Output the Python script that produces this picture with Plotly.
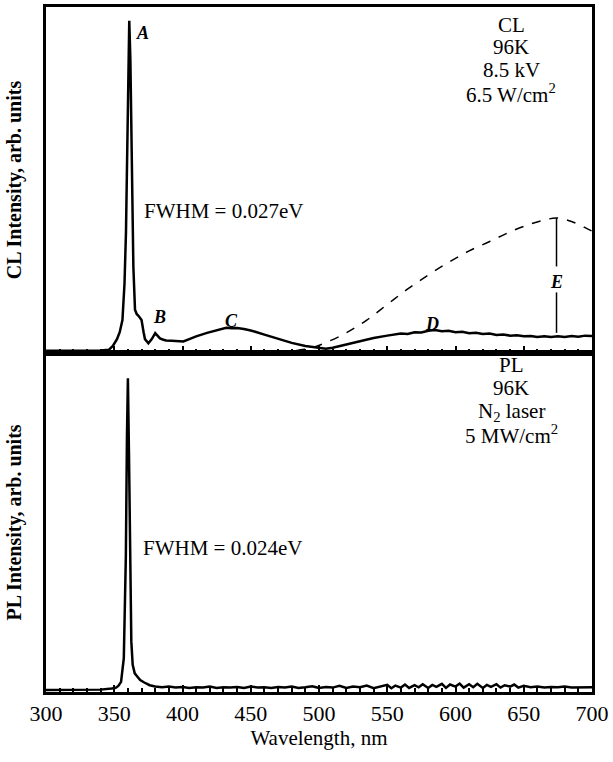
import plotly.graph_objects as go
from plotly.subplots import make_subplots

# ---------------- data ----------------
# CL spectrum (solid), wavelength nm / arb. intensity
cl_wavelength = [300, 310, 320, 330, 340, 346, 349, 352, 354, 356, 357.5, 358.6, 359.5, 360.3, 361,
                 361.8, 362.8, 364, 365.2, 366.5, 367.6, 370, 371.5, 372.5, 375, 377.5, 380, 382,
                 383.5, 386, 388, 392, 395.7, 399, 400.6, 405, 410, 418, 425, 428, 432, 436, 440,
                 445, 450, 460, 470, 480, 490, 500, 505, 510, 520, 530, 540, 550, 555, 560, 565,
                 570, 575, 580, 585, 590, 595, 600, 605, 610, 615, 620, 625, 630, 635, 640, 645,
                 650, 655, 660, 665, 670, 675, 680, 685, 690, 695, 700]
cl_intensity = [0.006, 0.006, 0.006, 0.006, 0.007, 0.009, 0.02, 0.04, 0.06, 0.095, 0.2, 0.35, 0.55,
                0.75, 0.96, 0.85, 0.62, 0.25, 0.125, 0.112, 0.108, 0.095, 0.06, 0.04, 0.028, 0.04,
                0.057, 0.05, 0.042, 0.038, 0.036, 0.035, 0.034, 0.032, 0.033, 0.04, 0.048, 0.058,
                0.065, 0.068, 0.073, 0.071, 0.072, 0.069, 0.065, 0.053, 0.041, 0.029, 0.02, 0.014,
                0.012, 0.015, 0.025, 0.035, 0.043, 0.05, 0.052, 0.056, 0.055, 0.06, 0.059, 0.064,
                0.066, 0.063, 0.064, 0.06, 0.061, 0.057, 0.058, 0.055, 0.056, 0.052, 0.053, 0.05,
                0.051, 0.048, 0.049, 0.046, 0.048, 0.046, 0.048, 0.046, 0.049, 0.047, 0.05, 0.049]

# CL spectrum, second measurement (dashed)
dash_wavelength = [470, 485, 495, 505, 520, 535, 550, 565, 580, 595, 610, 625, 640, 655, 665,
                   674, 685, 695, 700]
dash_intensity = [0.003, 0.008, 0.015, 0.03, 0.058, 0.095, 0.14, 0.185, 0.225, 0.262, 0.295, 0.322,
                  0.35, 0.373, 0.384, 0.39, 0.38, 0.362, 0.352]

# PL spectrum
pl_wavelength = [300, 310, 320, 330, 340, 348, 351, 353, 355, 357, 358.5, 359.3, 360, 360.8, 361.6,
                 362.5, 363.5, 365, 367, 369, 372, 376, 380, 385, 390, 395, 400, 405, 410, 415,
                 420, 425, 430, 435, 440, 445, 450, 455, 460, 465, 470, 475, 480, 485, 490, 495,
                 500, 505, 510, 515, 520, 525, 530, 535, 540, 545, 550, 553, 556, 560, 563, 566,
                 570, 573, 576, 580, 583, 586, 590, 593, 596, 600, 603, 606, 610, 613, 616, 620,
                 623, 626, 630, 633, 636, 640, 643, 646, 650, 655, 660, 665, 670, 675, 680, 685,
                 690, 695, 700]
pl_intensity = [0.006, 0.006, 0.006, 0.007, 0.007, 0.01, 0.012, 0.018, 0.03, 0.1, 0.4, 0.75, 0.925,
                0.7, 0.35, 0.15, 0.08, 0.055, 0.045, 0.035, 0.028, 0.02, 0.016, 0.014, 0.016, 0.013,
                0.015, 0.012, 0.014, 0.013, 0.016, 0.012, 0.014, 0.013, 0.015, 0.012, 0.016, 0.013,
                0.014, 0.012, 0.015, 0.013, 0.016, 0.012, 0.014, 0.017, 0.012, 0.015, 0.013, 0.018,
                0.012, 0.016, 0.014, 0.019, 0.011, 0.017, 0.021, 0.011, 0.019, 0.013, 0.022, 0.012,
                0.02, 0.014, 0.023, 0.012, 0.021, 0.015, 0.024, 0.012, 0.022, 0.016, 0.025, 0.013,
                0.023, 0.014, 0.024, 0.012, 0.021, 0.015, 0.023, 0.013, 0.02, 0.016, 0.022, 0.013,
                0.018, 0.014, 0.016, 0.013, 0.015, 0.014, 0.016, 0.013, 0.014, 0.015, 0.014]

x_ticks = [300, 350, 400, 450, 500, 550, 600, 650, 700]
x_tick_labels = ["300", "350", "400", "450", "500", "550", "600", "650", "700"]

peak_labels = ["A", "B", "C", "D"]
peak_label_x = [371, 383, 436, 583]
peak_label_y = [0.925, 0.105, 0.092, 0.083]

e_wavelength = 674

cl_info = ["CL", "96K", "8.5 kV", "6.5 W/cm<sup>2</sup>"]
pl_info = ["PL", "96K", "N<sub>2</sub> laser", "5 MW/cm<sup>2</sup>"]

# ---------------- figure ----------------
SERIF = "Liberation Serif"
fig = make_subplots(rows=2, cols=1, shared_xaxes=True, vertical_spacing=0)

fig.add_trace(go.Scatter(x=dash_wavelength, y=dash_intensity, mode="lines",
                         line=dict(color="black", width=1.5, dash="dash", shape="spline"),
                         showlegend=False), row=1, col=1)
fig.add_trace(go.Scatter(x=cl_wavelength, y=cl_intensity, mode="lines",
                         line=dict(color="black", width=2.5),
                         showlegend=False), row=1, col=1)
fig.add_trace(go.Scatter(x=pl_wavelength, y=pl_intensity, mode="lines",
                         line=dict(color="black", width=2.5),
                         showlegend=False), row=2, col=1)

# E marker derived from the data arrays
e_dash_val = dash_intensity[dash_wavelength.index(e_wavelength)]
e_cl_val = min(cl_intensity[i] for i, w in enumerate(cl_wavelength) if abs(w - e_wavelength) <= 6)
e_label_y = 0.205
fig.add_shape(type="line", x0=e_wavelength, x1=e_wavelength, y0=e_dash_val, y1=e_label_y + 0.045,
              xref="x", yref="y", line=dict(color="black", width=1.5))
fig.add_shape(type="line", x0=e_wavelength, x1=e_wavelength, y0=e_label_y - 0.03, y1=e_cl_val + 0.012,
              xref="x", yref="y", line=dict(color="black", width=1.5))

letter_font = dict(family=SERIF, size=18, color="black")
for lab, lx, ly in zip(peak_labels, peak_label_x, peak_label_y):
    fig.add_annotation(x=lx, y=ly, xref="x", yref="y", text=f"<b><i>{lab}</i></b>",
                       showarrow=False, font=letter_font)
fig.add_annotation(x=e_wavelength, y=e_label_y, xref="x", yref="y", text="<b><i>E</i></b>",
                   showarrow=False, font=letter_font)

text_font = dict(family=SERIF, size=21, color="black")
fig.add_annotation(x=370.5, y=0.41, xref="x", yref="y", text="FWHM = 0.027eV",
                   showarrow=False, xanchor="left", font=text_font)
fig.add_annotation(x=369.5, y=0.425, xref="x2", yref="y2", text="FWHM = 0.024eV",
                   showarrow=False, xanchor="left", font=text_font)

info_y_top = [0.948, 0.884, 0.818, 0.751]
info_y_bot = [0.965, 0.897, 0.826, 0.758]
for t, yy in zip(cl_info, info_y_top):
    fig.add_annotation(x=641, y=yy, xref="x", yref="y", text=t, showarrow=False, font=text_font)
for t, yy in zip(pl_info, info_y_bot):
    fig.add_annotation(x=641, y=yy, xref="x2", yref="y2", text=t, showarrow=False, font=text_font)

xaxis_common = dict(range=[300, 700], showline=True, linecolor="black", linewidth=3, mirror=True,
                     ticks="inside", tickvals=x_ticks, ticklen=7, tickwidth=2, tickcolor="black",
                     minor=dict(dtick=10, ticks="inside", ticklen=4, tickwidth=2, tickcolor="black"),
                     showgrid=False, zeroline=False, automargin=False)
fig.update_xaxes(**xaxis_common)
fig.update_xaxes(showticklabels=False, row=1, col=1)
fig.update_xaxes(ticktext=x_tick_labels, tickfont=dict(family=SERIF, size=22, color="black"),
                 title=dict(text="Wavelength, nm", font=dict(family=SERIF, size=21, color="black"),
                            standoff=4),
                 row=2, col=1)

yaxis_common = dict(showline=True, linecolor="black", linewidth=3, mirror=True, ticks="",
                    showticklabels=False, showgrid=False, zeroline=False, automargin=False)
fig.update_yaxes(**yaxis_common)
fig.update_yaxes(range=[0, 1], domain=[0.495, 1.0],
                 title=dict(text="<b>CL Intensity, arb. units</b>",
                            font=dict(family=SERIF, size=20, color="black"), standoff=16),
                 row=1, col=1)
fig.update_yaxes(range=[0, 1], domain=[0.0, 0.495],
                 title=dict(text="<b>PL Intensity, arb. units</b>",
                            font=dict(family=SERIF, size=20, color="black"), standoff=16),
                 row=2, col=1)

fig.update_layout(width=613, height=762, margin=dict(l=46, r=21, t=7, b=70, autoexpand=False),
                  font=dict(family=SERIF, color="black"),
                  plot_bgcolor="white", paper_bgcolor="white", showlegend=False)

fig.write_html("out.html", config={"displayModeBar": False},
               post_script="document.body.style.margin='0';document.body.style.overflow='hidden';")
